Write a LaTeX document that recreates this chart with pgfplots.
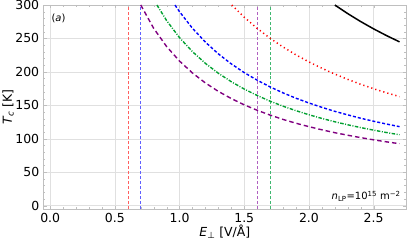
\documentclass[border=0pt]{standalone}
\usepackage{fontspec}
\setmainfont{DejaVu Sans}
\usepackage{pgfplots}
\pgfplotsset{compat=1.18}
\definecolor{framegray}{HTML}{BFBFBF}
\definecolor{gridgray}{HTML}{E0E0E0}
\definecolor{cpurple}{HTML}{800080}
\definecolor{cblue}{HTML}{0000FF}
\definecolor{cgreen}{HTML}{00A030}
\definecolor{cred}{HTML}{FF0000}
\definecolor{vred}{HTML}{FF6060}
\definecolor{vblue}{HTML}{6060FF}
\definecolor{vpurple}{HTML}{B060C0}
\definecolor{vgreen}{HTML}{40B870}
\begin{document}
\begin{tikzpicture}
\begin{axis}[
  scale only axis,
  width=362.3bp, height=204bp,
  xmin=-0.05, xmax=2.75,
  ymin=-5, ymax=300,
  xtick={0,0.5,...,2.5},
  ytick={0,50,...,300},
  minor x tick num=4,
  minor y tick num=4,
  xticklabels={0.0,0.5,1.0,1.5,2.0,2.5},
  /pgf/number format/assume math mode=true,
  tick label style={font=\fontsize{12.5}{14}\selectfont, black},
  label style={font=\fontsize{12.5}{14}\selectfont},
  xlabel={\textit{E}\textsubscript{⊥} [V/Å]},
  ylabel={\textit{T}\textsubscript{\textit{c}} [K]},
  xlabel style={at={(axis description cs:0.5,-0.1127)}, anchor=center},
  ylabel style={at={(axis description cs:-0.0985,0.5)}, anchor=center},
  axis line style={framegray},
  tick style={framegray},
  major tick length=3bp, minor tick length=1.8bp,
  tick align=inside,
  xtick pos=both, ytick pos=both,
  grid=major,
  major grid style={gridgray, line width=0.5pt},
  xticklabel style={yshift=-1bp},
  yticklabel style={xshift=-1bp},
  clip=true,
]
% vertical reference lines
\addplot[vred, densely dashed, line width=0.6pt] coordinates {(0.6,-5) (0.6,300)};
\addplot[vblue, densely dashed, line width=0.6pt] coordinates {(0.7,-5) (0.7,300)};
\addplot[vpurple, densely dashed, line width=0.6pt] coordinates {(1.6,-5) (1.6,300)};
\addplot[vgreen, densely dashed, line width=0.6pt] coordinates {(1.7,-5) (1.7,300)};
% purple
\addplot[cpurple, line width=1.4pt, dash pattern=on 4.5bp off 3bp] coordinates {
(0.7,300) (0.8,265.1) (0.9,237.9) (1.0,216.1) (1.1,198.3) (1.2,183.4) (1.3,170.8)
(1.4,160.1) (1.5,150.7) (1.6,142.6) (1.7,135.4) (1.8,128.9) (1.9,123.2) (2.0,118.1)
(2.1,113.4) (2.2,109.1) (2.3,105.3) (2.4,101.7) (2.5,98.4) (2.6,95.4) (2.7,92.6)};
% blue
\addplot[cblue, line width=1.4pt, dash pattern=on 3bp off 2bp] coordinates {
(0.965,299.8) (1.0,289.9) (1.1,265.1) (1.2,244.4) (1.3,226.9) (1.4,211.9) (1.5,198.9)
(1.6,187.6) (1.7,177.5) (1.8,168.6) (1.9,160.6) (2.0,153.5) (2.1,147.0) (2.2,141.0)
(2.3,135.7) (2.4,130.7) (2.5,126.2) (2.6,122.0) (2.7,118.1)};
% green
\addplot[cgreen, line width=1.4pt, dash pattern=on 3.5bp off 1.5bp on 1bp off 1.5bp] coordinates {
(0.825,300.0) (0.9,276.7) (1.0,251.1) (1.1,230.2) (1.2,212.7) (1.3,197.9) (1.4,185.3)
(1.5,174.3) (1.6,164.7) (1.7,156.2) (1.8,148.7) (1.9,142.0) (2.0,135.9) (2.1,130.4)
(2.2,125.4) (2.3,120.9) (2.4,116.7) (2.5,112.9) (2.6,109.3) (2.7,106.0)};
% red
\addplot[cred, line width=1.5pt, dash pattern=on 1.2bp off 3bp] coordinates {
(1.404,299.9) (1.5,281.7) (1.6,265.0) (1.7,250.2) (1.8,237.2) (1.9,225.4) (2.0,214.9)
(2.1,205.4) (2.2,196.7) (2.3,188.8) (2.4,181.5) (2.5,174.8) (2.6,168.7) (2.7,163.0)};
% black
\addplot[black, line width=1.5pt] coordinates {
(2.2,300.0) (2.3,287.1) (2.4,275.2) (2.5,264.3) (2.6,254.2) (2.7,244.9)};
\node[anchor=north west, font=\fontsize{10}{12}\selectfont] at (axis description cs:0.012,0.975) {(\textit{a})};
\node[anchor=south east, font=\fontsize{10}{12}\selectfont] at (axis description cs:0.995,0.02) {\textit{n}\textsubscript{LP}=10\textsuperscript{15} m\textsuperscript{−2}};
\end{axis}
\pgfresetboundingbox
\path (-43.7bp,-37bp) rectangle (363.3bp,209bp);
\end{tikzpicture}
\end{document}
